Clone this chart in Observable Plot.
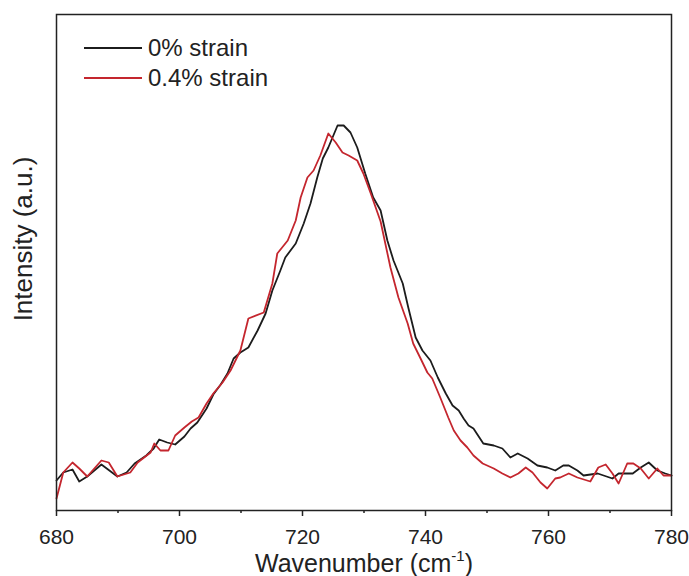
<!DOCTYPE html>
<html><head><meta charset="utf-8">
<script src="https://cdn.jsdelivr.net/npm/d3@7"></script>
<script src="https://cdn.jsdelivr.net/npm/@observablehq/plot@0.6"></script>
<style>
body{margin:0;background:#fff;font-family:"Liberation Sans",Arial,sans-serif;color:#222;}
#wrap{position:relative;width:689px;height:576px;overflow:hidden;}
.ylab{position:absolute;left:23px;top:239px;transform:translate(-50%,-50%) rotate(-90deg);font-size:26px;white-space:nowrap;}
.xlab{position:absolute;left:364px;top:563px;transform:translate(-50%,-50%);font-size:25px;white-space:nowrap;}
.xlab sup{font-size:15px;vertical-align:top;position:relative;top:-2px;}
.legend{position:absolute;left:84px;top:33px;font-size:24px;line-height:30px;}
.legend .row{display:flex;align-items:center;height:30px;}
.legend svg{margin-right:6px;}
</style>
</head><body>
<div id="wrap"></div>
<script>
const xTicks = [680, 700, 720, 740, 760, 780];
const xMinorTicks = [690, 710, 730, 750, 770];
const seriesNames = ["0% strain", "0.4% strain"];
const seriesColors = ["#1c1c1c", "#c4262e"];

const blackWn = [680.0,681.1,682.6,683.7,685.0,687.3,689.9,691.4,692.7,694.6,695.8,696.7,698.0,699.3,700.8,701.8,702.9,704.4,705.5,706.7,707.8,708.8,709.9,711.2,712.7,714.0,715.1,716.4,717.2,718.9,720.2,721.3,722.4,723.3,724.2,725.7,726.7,727.8,728.9,730.2,731.5,732.7,733.8,734.8,736.3,737.2,738.4,739.5,740.8,742.0,743.3,744.4,745.4,746.2,747.0,747.8,749.4,751.1,752.5,753.8,755.0,756.6,758.2,759.8,761.1,762.4,763.3,764.7,765.7,768.0,770.4,771.4,773.7,775.0,776.3,777.7,779.0,780.0];
const blackInt = [30,38,41,29,34,46,34,38,47,55,62,71,68,66,74,82,88,102,116,126,137,152,158,163,180,197,220,240,253,267,287,307,333,352,363,385,385,378,363,337,313,300,270,250,227,203,173,160,150,133,117,105,100,92,85,82,67,65,62,53,57,52,45,43,40,45,45,40,35,37,32,37,37,43,48,40,37,35];

const redWn = [680.0,681.1,682.6,683.7,685.0,687.3,688.5,689.9,692.0,693.2,695.3,695.9,696.9,698.2,699.3,700.8,702.0,703.1,704.4,705.5,707.0,708.3,709.9,711.2,713.7,715.1,715.9,717.6,718.9,719.7,720.8,721.8,722.9,724.2,725.4,726.5,727.5,728.9,729.9,731.1,732.7,734.3,735.6,737.1,738.0,739.2,740.3,741.1,742.4,743.7,744.6,745.7,746.8,747.8,749.3,751.1,752.5,753.8,755.1,756.3,757.4,758.7,759.8,761.1,761.9,763.3,764.7,766.8,768.1,769.3,770.4,771.4,772.8,773.8,775.0,776.3,777.7,778.7,780.0];
const redInt = [12,38,48,42,34,50,48,34,38,48,58,67,60,60,75,83,89,93,107,117,128,140,160,192,198,227,257,270,290,313,333,340,355,377,368,358,355,350,337,317,289,243,213,187,167,152,138,132,113,93,80,70,63,55,47,42,37,33,37,43,38,28,22,32,33,37,33,29,43,46,37,27,47,47,42,32,42,35,35];

const blackData = blackWn.map((w, i) => ({w, v: blackInt[i]}));
const redData = redWn.map((w, i) => ({w, v: redInt[i]}));

const chart = Plot.plot({
  width: 689, height: 576,
  marginLeft: 56, marginRight: 18, marginTop: 14, marginBottom: 66,
  x: {domain: [680, 780]},
  y: {domain: [0, 496], axis: null},
  style: {fontFamily: "Liberation Sans, Arial, sans-serif", fontSize: "21px", color: "#222", background: "white"},
  marks: [
    Plot.axisX({ticks: xTicks, tickSize: 6, tickPadding: 13, label: null, strokeWidth: 1.5, fontSize: 21}),
    Plot.axisX({ticks: xMinorTicks, tickSize: 3, text: null, label: null, strokeWidth: 1.5}),
    Plot.line(blackData, {x: "w", y: "v", stroke: seriesColors[0], strokeWidth: 1.8}),
    Plot.line(redData, {x: "w", y: "v", stroke: seriesColors[1], strokeWidth: 1.8}),
    Plot.frame({stroke: "#222", strokeWidth: 1.5})
  ]
});
const wrap = document.getElementById("wrap");
wrap.appendChild(chart);

const yl = document.createElement("div");
yl.className = "ylab"; yl.textContent = "Intensity (a.u.)";
wrap.appendChild(yl);
const xl = document.createElement("div");
xl.className = "xlab"; xl.innerHTML = "Wavenumber (cm<sup>-1</sup>)";
wrap.appendChild(xl);

const lg = document.createElement("div");
lg.className = "legend";
seriesNames.forEach((n, i) => {
  const row = document.createElement("div");
  row.className = "row";
  row.innerHTML = `<svg width="58" height="4"><line x1="0" x2="58" y1="2" y2="2" stroke="${seriesColors[i]}" stroke-width="2"/></svg><span>${n}</span>`;
  lg.appendChild(row);
});
wrap.appendChild(lg);
</script>
</body></html>
